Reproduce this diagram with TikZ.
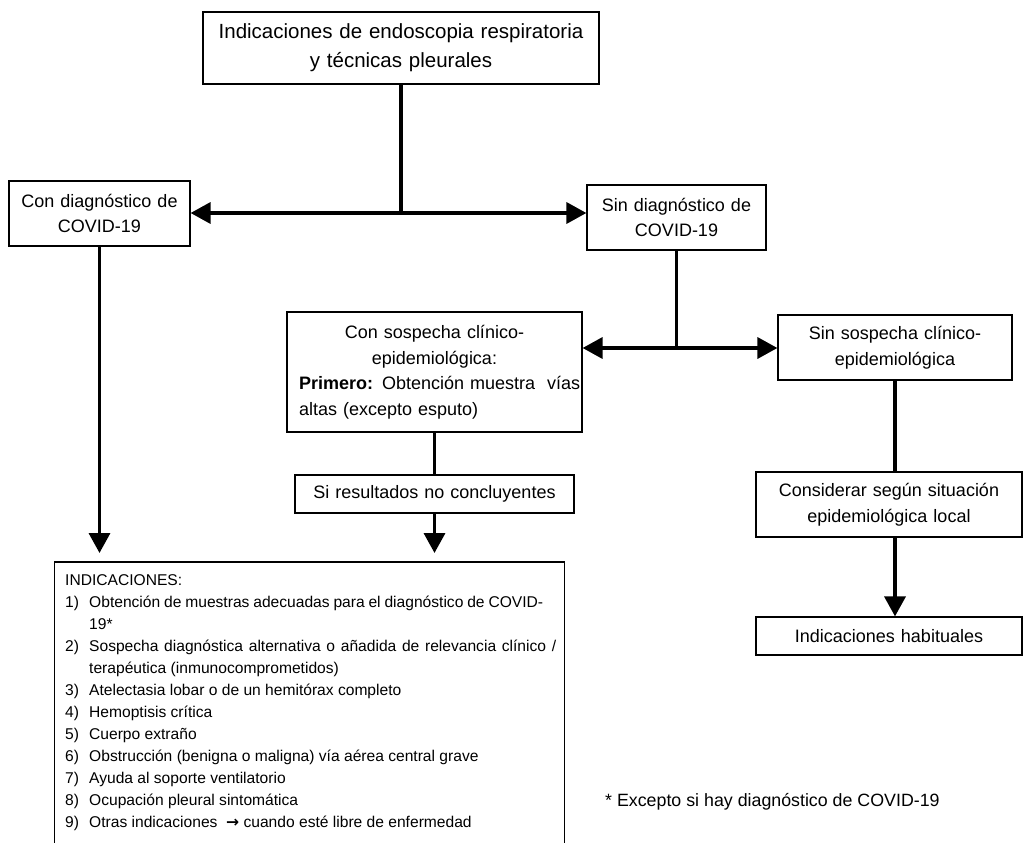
\documentclass[tikz,border=0pt]{standalone}
\usepackage{fontspec}
\setmainfont{Liberation Sans}
\newfontfamily\djv{DejaVu Sans}
\usetikzlibrary{arrows.meta}
\tikzset{
  box/.style={draw, line width=1.2pt, inner sep=0pt, align=center},
  conn/.style={line width=3.5pt},
  arr/.style={conn, -{Triangle[length=20pt,width=21pt]}},
  biarr/.style={conn, {Triangle[length=20pt,width=21pt]}-{Triangle[length=20pt,width=21pt]}},
  midfont/.style={font=\fontsize{18}{25.5}\selectfont},
}
\begin{document}
\begin{tikzpicture}[x=1pt,y=-1pt]
\path[use as bounding box, clip] (0,0) rectangle (1023,843);
\fill[white] (0,0) rectangle (1023,843);

\node[box, minimum width=396pt, minimum height=72pt, text width=390pt, font=\fontsize{20.5}{29}\selectfont] (top) at (401,48) {Indicaciones de endoscopia respiratoria\\y técnicas pleurales};

\node[box, midfont, minimum width=181pt, minimum height=65pt, text width=175pt] (A) at (99.5,213.5) {Con diagnóstico de\\COVID-19};
\node[box, midfont, minimum width=179pt, minimum height=65pt, text width=173pt] (B) at (676.5,217.5) {Sin diagnóstico de\\COVID-19};

\node[box, midfont, minimum width=295pt, minimum height=120pt, text width=271pt] (C) at (434.5,372) {Con sospecha clínico-\\epidemiológica:\\\makebox[271pt][s]{\textbf{Primero:} Obtención muestra \ vías}\\\makebox[271pt][l]{altas (excepto esputo)}};
\node[box, midfont, minimum width=234pt, minimum height=65pt, text width=228pt] (D) at (895,347.5) {Sin sospecha clínico-\\epidemiológica};

\node[box, midfont, minimum width=279pt, minimum height=38pt, text width=273pt] (E) at (434.5,494) {Si resultados no concluyentes};
\node[box, midfont, minimum width=266pt, minimum height=65pt, text width=260pt] (F) at (889,504.5) {Considerar según situación\\epidemiológica local};
\node[box, font=\fontsize{18}{24}\selectfont, minimum width=266pt, minimum height=38pt, text width=260pt] (G) at (889,636) {Indicaciones habituales};

\node[minimum width=509pt, minimum height=300pt, inner sep=0pt, anchor=north] (H) at (309.5,562) {};
\draw[line width=1.2pt] (H.south west) -- (H.north west) -- (H.north east) -- (H.south east);
\node[inner sep=0pt, anchor=north west, font=\fontsize{15.6}{22}\selectfont] (Hlist) at (65,570) {%
\begin{tabular}{@{}l@{}}
INDICACIONES:\\
\makebox[24pt][l]{1)}\makebox[454pt][s]{Obtención de muestras adecuadas para el diagnóstico de COVID-}\\
\hspace*{24pt}19*\\
\makebox[24pt][l]{2)}\makebox[467pt][s]{Sospecha diagnóstica alternativa o añadida de relevancia clínico /}\\
\hspace*{24pt}terapéutica (inmunocomprometidos)\\
\makebox[24pt][l]{3)}Atelectasia lobar o de un hemitórax completo\\
\makebox[24pt][l]{4)}Hemoptisis crítica\\
\makebox[24pt][l]{5)}Cuerpo extraño\\
\makebox[24pt][l]{6)}Obstrucción (benigna o maligna) vía aérea central grave\\
\makebox[24pt][l]{7)}Ayuda al soporte ventilatorio\\
\makebox[24pt][l]{8)}Ocupación pleural sintomática\\
\makebox[24pt][l]{9)}Otras indicaciones \ {\djv\bfseries →} cuando esté libre de enfermedad
\end{tabular}};

\node[inner sep=0pt, anchor=west, font=\fontsize{17.8}{22}\selectfont] (note) at (605,802) {* Excepto si hay diagnóstico de COVID-19};

\coordinate (y1) at (0,213);
\coordinate (y2) at (0,348);
\draw[conn] (top.south) -- (top.south |- y1);
\draw[biarr] (A.east |- y1) -- (B.west |- y1);
\draw[conn] (B.south) -- (B.south |- y2);
\draw[biarr] (C.east |- y2) -- (D.west |- y2);
\draw[conn] (C.south) -- (E.north);
\draw[arr, shorten >=9pt] (A.south) -- (A.south |- H.north);
\draw[arr, shorten >=9pt] (E.south) -- (E.south |- H.north);
\draw[conn] (D.south) -- (D.south |- F.north);
\draw[arr] (F.south -| D.south) -- (G.north -| D.south);
\end{tikzpicture}
\end{document}
